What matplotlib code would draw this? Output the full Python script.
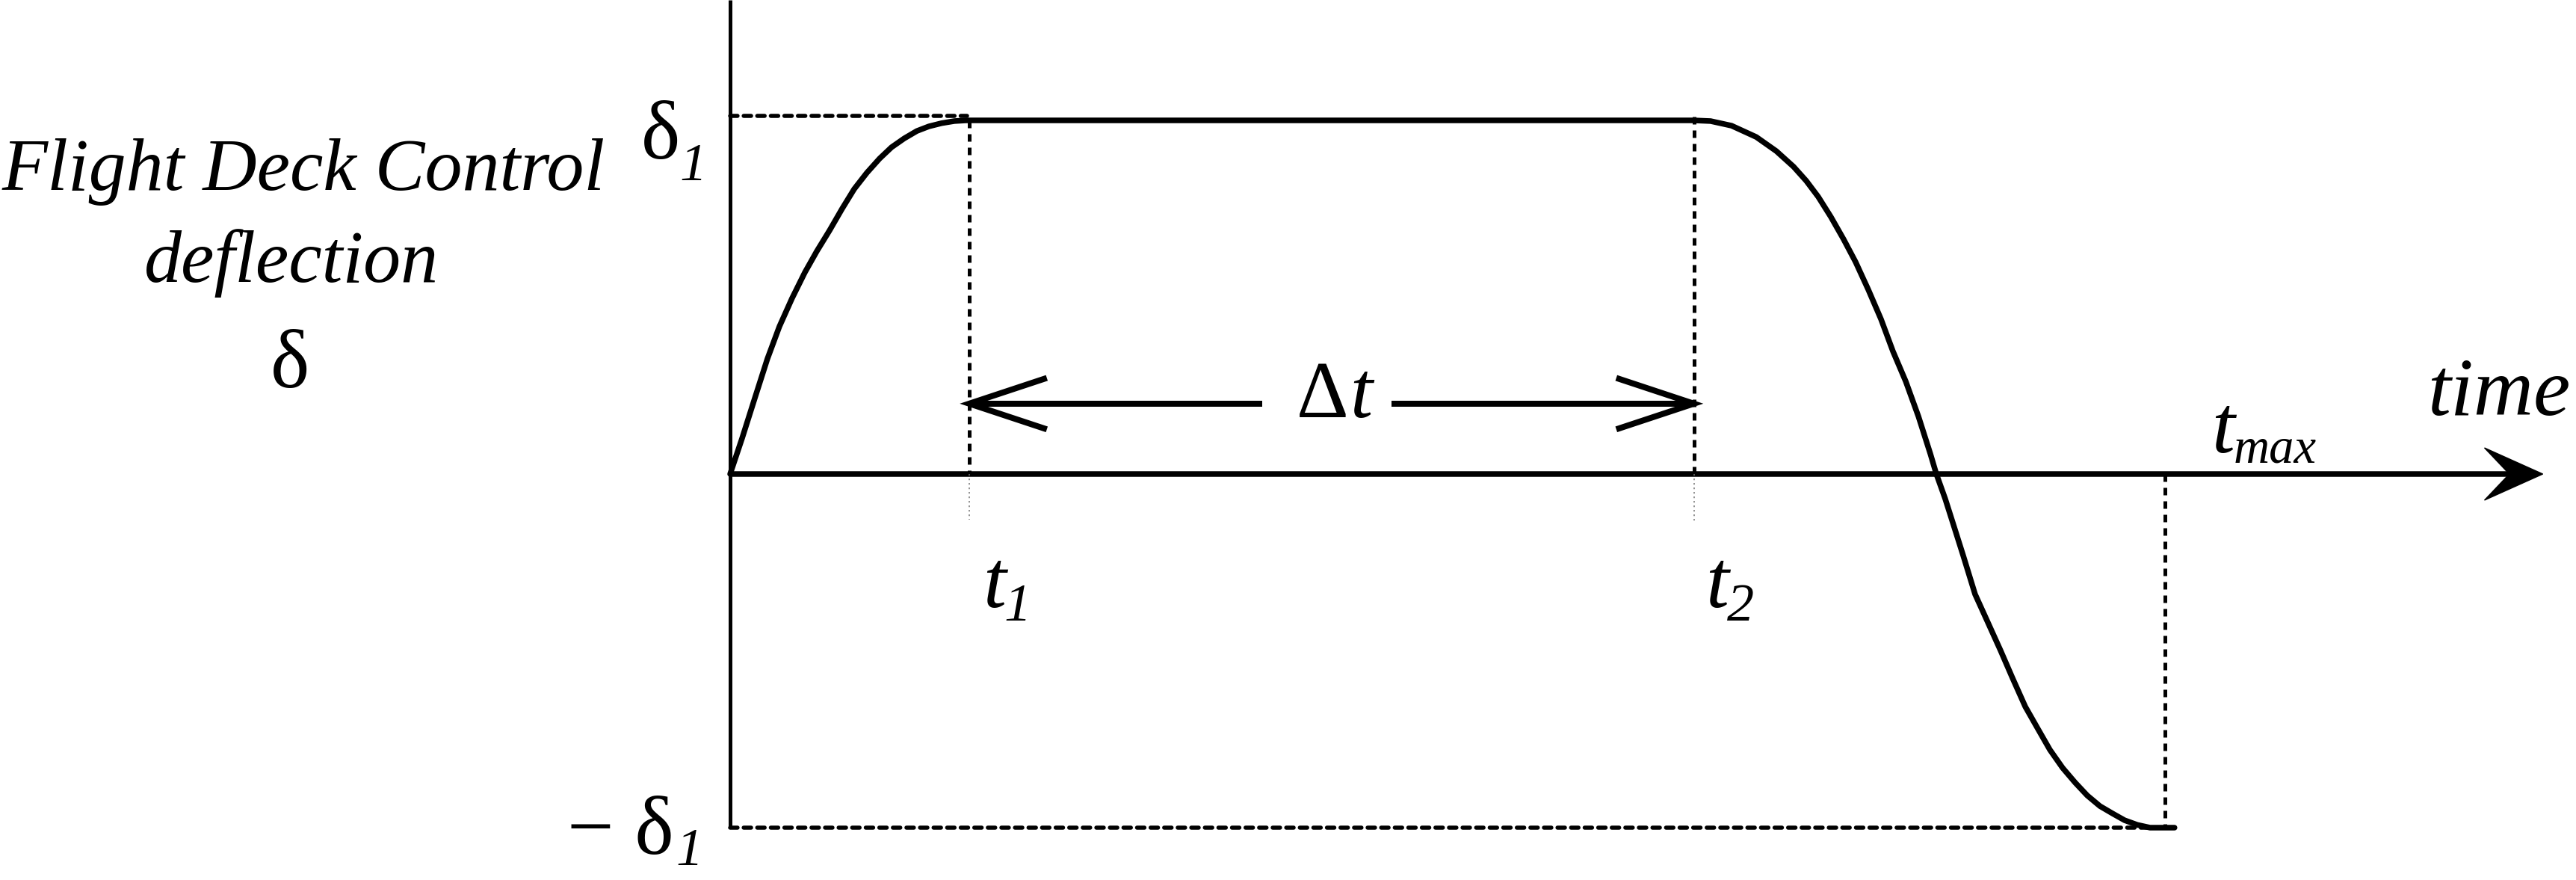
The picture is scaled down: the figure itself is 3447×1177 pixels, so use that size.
import matplotlib
matplotlib.use("Agg")
import matplotlib.pyplot as plt
from matplotlib.patches import Polygon

# ---------------- data (time in units of t1, deflection in units of delta1) ----
delta1 = 1.0
t1, t2, tmax = 1.0, 4.03, 6.0
t_axis_end = 7.58           # tip of the time-axis arrow
y_axis_top = 1.34           # top of the deflection axis
delta1_guide = 1.013        # dotted guide at the delta1 level

rise_t = [0.0, 0.05, 0.103, 0.156, 0.206, 0.259, 0.3125, 0.3625, 0.416, 0.469,
          0.519, 0.572, 0.625, 0.675, 0.728, 0.781, 0.831, 0.884, 0.9375, 0.9875, 1.0]
rise_d = [0.0, 0.101, 0.214, 0.326, 0.417, 0.497, 0.570, 0.630, 0.689, 0.751,
          0.806, 0.852, 0.892, 0.924, 0.949, 0.970, 0.983, 0.992, 0.998, 1.0, 1.0]

fall_t = [4.03, 4.10, 4.1875, 4.291, 4.375, 4.447, 4.5, 4.55, 4.603, 4.656, 4.706,
          4.759, 4.8125, 4.8625, 4.916, 4.969, 5.019, 5.044, 5.081, 5.1125, 5.156,
          5.206, 5.259, 5.3125, 5.3625, 5.416, 5.469, 5.519, 5.572, 5.625, 5.675,
          5.728, 5.781, 5.831, 5.884, 5.9375, 5.9875, 6.04]
fall_d = [1.0, 0.998, 0.985, 0.953, 0.913, 0.869, 0.829, 0.784, 0.727, 0.664, 0.600,
          0.522, 0.438, 0.347, 0.262, 0.163, 0.057, 0.0, -0.070, -0.137, -0.230,
          -0.340, -0.419, -0.499, -0.577, -0.658, -0.721, -0.780, -0.831, -0.873, -0.909,
          -0.939, -0.960, -0.979, -0.992, -1.0, -1.0, -1.0]

curve_t = rise_t + [t2] + fall_t
curve_d = rise_d + [delta1] + fall_d

dt_arrow_level = 0.199
dt_gap = (2.225, 2.766)   # gap in the delta-t arrow for its label

# ---------------- figure ---------------------------------------------------------
W, H, DPI = 3448, 1177, 100
fig = plt.figure(figsize=(W / DPI, H / DPI), dpi=DPI)
ax = fig.add_axes([0, 0, 1, 1])
ax.set_xlim(-3.0531, 7.7219)
ax.set_ylim(-1.148, 1.3404)
ax.axis("off")

PX = 72.0 / DPI  # points per pixel
SERIF = "Liberation Serif"

# axes
ax.plot([0, 0], [-delta1, y_axis_top], color="black", lw=5 * PX, solid_capstyle="butt")
notch = t_axis_end - 0.14
ax.plot([0, notch], [0, 0], color="black", lw=7.5 * PX, solid_capstyle="butt")
head = Polygon([(t_axis_end, 0), (t_axis_end - 0.244, 0.074), (notch, 0),
                (t_axis_end - 0.244, -0.074)], closed=True, facecolor="black",
               edgecolor="black", lw=1)
ax.add_patch(head)

# guides
dot_kw = dict(color="black", lw=5.5 * PX, dashes=(1.8, 1.5), dash_capstyle="round")
ax.plot([0, 0.99], [delta1_guide, delta1_guide], **dot_kw)
ax.plot([0, 6.04], [-delta1, -delta1], **dot_kw)
vdash_kw = dict(color="black", lw=5 * PX, dashes=(2.0, 1.6))
ax.plot([t1, t1], [delta1, 0], **vdash_kw)
ax.plot([t2, t2], [delta1 + 0.01, 0], **vdash_kw)
ax.plot([tmax, tmax], [0, -delta1], **vdash_kw)
faint_kw = dict(color="0.45", lw=1.5 * PX, dashes=(1.5, 2.5))
ax.plot([t1, t1], [0, -0.129], **faint_kw)
ax.plot([t2, t2], [0, -0.133], **faint_kw)

# main curve
ax.plot(curve_t, curve_d, color="black", lw=7.5 * PX, solid_joinstyle="round",
        solid_capstyle="round")

# delta-t arrow
arr_kw = dict(color="black", lw=8 * PX, solid_capstyle="butt")
ax.plot([t1, dt_gap[0]], [dt_arrow_level] * 2, **arr_kw)
ax.plot([dt_gap[1], t2], [dt_arrow_level] * 2, **arr_kw)
arm_dx, arm_dy = 0.3125, 0.070
ax.plot([t1 + arm_dx, t1, t1 + arm_dx],
        [dt_arrow_level + arm_dy, dt_arrow_level, dt_arrow_level - arm_dy],
        color="black", lw=8 * PX, solid_joinstyle="miter")
ax.plot([t2 - arm_dx, t2, t2 - arm_dx],
        [dt_arrow_level + arm_dy, dt_arrow_level, dt_arrow_level - arm_dy],
        color="black", lw=8 * PX, solid_joinstyle="miter")

# ---------------- text -------------------------------------------------------------
BIG, LAB, SUB = 80, 72, 52
def txt(x, y, s, size, style="normal", ha="left"):
    ax.text(x, y, s, fontsize=size, fontstyle=style, family=SERIF, ha=ha,
            va="baseline", color="black")

txt(-1.784, 0.803, "Flight Deck Control", LAB, "italic", "center")
txt(-1.834, 0.543, "deflection", LAB, "italic", "center")
txt(-1.841, 0.245, "δ", BIG, "normal", "center")

txt(-0.291, 0.892, "δ", BIG, "normal", "center")
txt(-0.212, 0.831, "1", SUB, "italic")

txt(-0.236, -1.075, "− δ", BIG, "normal", "right")
txt(-0.228, -1.105, "1", SUB, "italic")

txt(2.585, 0.161, "Δ", 78, "normal", "right")
txt(2.592, 0.161, "t", 78, "italic")

txt(1.058, -0.376, "t", BIG, "italic")
txt(1.145, -0.414, "1", SUB, "italic")
txt(4.078, -0.376, "t", BIG, "italic")
txt(4.168, -0.414, "2", SUB, "italic")

txt(6.195, 0.061, "t", BIG, "italic")
txt(6.285, 0.032, "max", 48, "italic")

txt(7.097, 0.167, "time", BIG, "italic")

fig.savefig("out.png", dpi=DPI)
